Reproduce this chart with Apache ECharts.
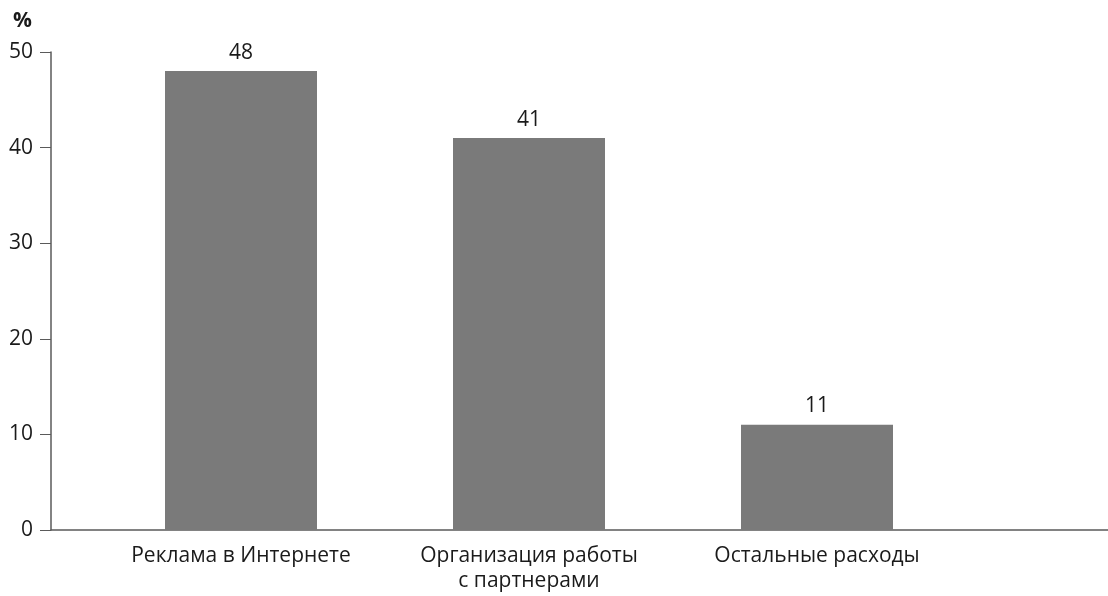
<!DOCTYPE html>
<html>
<head>
<meta charset="utf-8">
<script src="https://cdn.jsdelivr.net/npm/echarts@6/dist/echarts.min.js"></script>
<style>
  html, body { margin: 0; padding: 0; background: #fff; }
  #chart { width: 1108px; height: 596px; }
</style>
</head>
<body>
<div id="chart"></div>
<script>
const categories = ['Реклама в Интернете', 'Организация работы\nс партнерами', 'Остальные расходы']
const values = [48, 41, 11]
const yTicks = [0, 10, 20, 30, 40, 50]

const FONT = '"Open Sans", "Noto Sans", sans-serif'
const TEXT = '#1a1a1a'

const chart = echarts.init(document.getElementById('chart'), null, {renderer: 'canvas'})

chart.setOption({
  animation: false,
  textStyle: {fontFamily: FONT, color: TEXT},
  // grid 0 carries the visible axes, grid 1 places the bars
  grid: [
    {left: 51, right: 0, top: 52, bottom: 66},
    {left: 97, right: 147, top: 52, bottom: 66},
  ],
  graphic: [{
    type: 'text', left: 13, top: 11,
    style: {text: '%', font: 'bold 21px ' + FONT, fill: TEXT},
  }],
  xAxis: [
    {
      type: 'category', gridIndex: 0, data: [''],
      axisLine: {show: true, lineStyle: {color: '#5a5a5a', width: 1.5}},
      axisTick: {show: false}, axisLabel: {show: false},
    },
    {
      type: 'category', gridIndex: 1, data: categories,
      axisLine: {show: false}, axisTick: {show: false},
      axisLabel: {
        fontSize: 21, color: TEXT, fontFamily: FONT,
        margin: 14, lineHeight: 25, interval: 0,
      },
    },
  ],
  yAxis: [
    {
      type: 'value', gridIndex: 0, min: 0, max: yTicks[yTicks.length - 1], interval: 10,
      axisLine: {show: true, lineStyle: {color: '#5a5a5a', width: 1.5}},
      axisTick: {show: true, length: 11, lineStyle: {color: '#5a5a5a'}},
      axisLabel: {fontSize: 21, color: TEXT, fontFamily: FONT, margin: 18},
      splitLine: {show: false},
    },
    {
      type: 'value', gridIndex: 1, min: 0, max: 50, interval: 10, show: false,
    },
  ],
  series: [{
    type: 'bar',
    xAxisIndex: 1, yAxisIndex: 1,
    data: values,
    barWidth: 152,
    itemStyle: {color: '#7a7a7a'},
    label: {
      show: true, position: 'top', distance: 8,
      fontSize: 21, color: TEXT, fontFamily: FONT,
    },
  }],
})
</script>
</body>
</html>
